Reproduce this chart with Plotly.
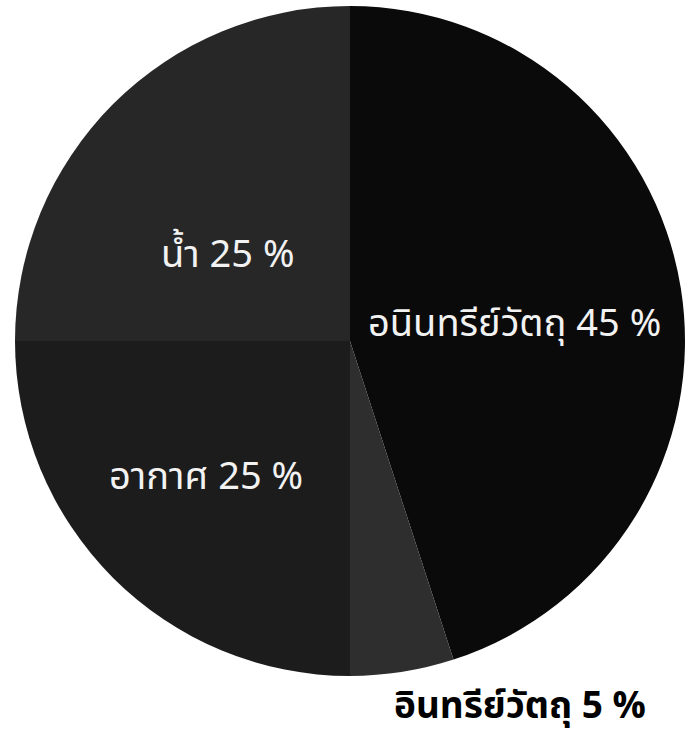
import plotly.graph_objects as go

labels = ["อนินทรีย์วัตถุ", "อินทรีย์วัตถุ", "อากาศ", "น้ำ"]
values = [45, 5, 25, 25]
colors = ["#0a0a0a", "#2e2e2e", "#1c1c1c", "#272727"]
# label anchor positions (paper coords) and text styles
label_pos = [(0.746, 0.563), (0.754, 0.047), (0.2986, 0.356), (0.330, 0.656)]
label_col = ["#f2f2f2", "black", "#f2f2f2", "#f2f2f2"]
label_bold = [False, True, False, False]
label_size = [38, 37, 38, 38]

fig = go.Figure(go.Pie(
    labels=labels, values=values, sort=False, direction="clockwise", rotation=0,
    marker=dict(colors=colors, line=dict(width=0)),
    textinfo="none", hoverinfo="label+percent", showlegend=False,
    domain=dict(x=[15/690, 685/690], y=[1-676/742, 1-6/742]),
))

font_family = "Noto Sans Thai, Loma, Garuda, Tlwg Typist, Noto Sans, DejaVu Sans, sans-serif"
for lab, val, (px, py), col, b, sz in zip(labels, values, label_pos, label_col, label_bold, label_size):
    txt = f"{lab} {val} %"
    if b:
        txt = f"<b>{txt}</b>"
    fig.add_annotation(x=px, y=py, xref="paper", yref="paper", text=txt, showarrow=False,
                       font=dict(size=sz, color=col, family=font_family),
                       xanchor="center", yanchor="middle")

fig.update_layout(width=690, height=742, margin=dict(l=0, r=0, t=0, b=0),
                  paper_bgcolor="white", plot_bgcolor="white")
fig.write_html("out.html")
